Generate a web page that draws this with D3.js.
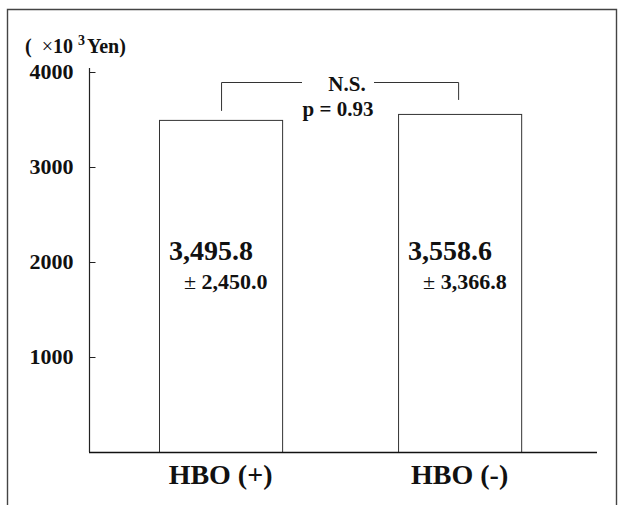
<!DOCTYPE html>
<html lang="en">
<head>
  <meta charset="UTF-8" />
  <title>HBO cost comparison</title>
  <script src="https://d3js.org/d3.v7.min.js"></script>
  <style>
    body { margin: 0; background: #fff; }
    svg text { font-family: "Liberation Serif", "Times New Roman", serif; font-weight: bold; fill: #111; }
  </style>
</head>
<body>
  <svg id="chart"></svg>
  <script>
    // data
    const groups = ["HBO (+)", "HBO (-)"];
    const means = [3495.8, 3558.6];
    const sds = [2450.0, 3366.8];
    const meanLabels = ["3,495.8", "3,558.6"];
    const sdLabels = ["2,450.0", "3,366.8"];
    const tickValues = [1000, 2000, 3000, 4000];

    const width = 622;
    const height = 505;

    const svg = d3.select("#chart")
      .attr("width", width)
      .attr("height", height);

    // outer frame (no bottom edge visible)
    svg.append("path")
      .attr("d", `M7.5,${height} V9.5 H616.5 V${height}`)
      .attr("fill", "none")
      .attr("stroke", "#444")
      .attr("stroke-width", 1.4);

    const y = d3.scaleLinear().domain([0, 4000]).range([452, 72]);
    const x = d3.scaleBand()
      .domain(groups)
      .range([89, 597])
      .paddingInner(0.485)
      .paddingOuter(0.305)
      .align(0.48);

    // y axis
    const yAxis = d3.axisLeft(y)
      .tickValues(tickValues)
      .tickSize(-6)
      .tickPadding(16)
      .tickFormat(d3.format("d"));

    const gy = svg.append("g")
      .attr("transform", "translate(89.5,0)")
      .call(yAxis);
    gy.select(".domain").remove();
    gy.selectAll(".tick line").attr("stroke", "#222").attr("stroke-width", 1);
    gy.selectAll(".tick text")
      .attr("font-size", 22)
      .attr("dy", "0.3em")
      .attr("fill", "#111");

    svg.append("line")
      .attr("x1", 89.5).attr("x2", 89.5)
      .attr("y1", y(0)).attr("y2", y(4000) - 4)
      .attr("stroke", "#222").attr("stroke-width", 1.2);

    // unit label
    const unit = svg.append("text")
      .attr("x", 25).attr("y", 53)
      .attr("font-size", 20)
      .attr("xml:space", "preserve");
    unit.append("tspan").text("(  ");
    unit.append("tspan").attr("font-weight", "normal").text("×");
    unit.append("tspan").text("10 ");
    unit.append("tspan").attr("font-size", 14).attr("dy", -8).text("3");
    unit.append("tspan").attr("dy", 8).attr("dx", 2).text("Yen)");

    // bars
    svg.selectAll(".bar")
      .data(groups)
      .join("rect")
      .attr("class", "bar")
      .attr("x", d => x(d) + 0.5)
      .attr("y", (d, i) => y(means[i]) + 0.5)
      .attr("width", x.bandwidth())
      .attr("height", (d, i) => y(0) - y(means[i]))
      .attr("fill", "#fff")
      .attr("stroke", "#333")
      .attr("stroke-width", 1);

    // baseline
    svg.append("line")
      .attr("x1", 89).attr("x2", 597)
      .attr("y1", y(0) + 0.5).attr("y2", y(0) + 0.5)
      .attr("stroke", "#111").attr("stroke-width", 1.6);

    // mean labels inside bars
    svg.selectAll(".mean")
      .data(groups)
      .join("text")
      .attr("class", "mean")
      .attr("x", d => x(d) + 10)
      .attr("y", y(2000) - 2)
      .attr("font-size", 28)
      .text((d, i) => meanLabels[i]);

    const sdText = svg.selectAll(".sd")
      .data(groups)
      .join("text")
      .attr("class", "sd")
      .attr("x", d => x(d) + 25)
      .attr("y", y(2000) + 27)
      .attr("font-size", 22);
    sdText.append("tspan").attr("font-weight", "normal").text("± ");
    sdText.append("tspan").text((d, i) => sdLabels[i]);

    // category labels
    svg.selectAll(".cat")
      .data(groups)
      .join("text")
      .attr("class", "cat")
      .attr("x", d => x(d) + x.bandwidth() / 2)
      .attr("y", 484)
      .attr("text-anchor", "middle")
      .attr("font-size", 28)
      .text(d => d);

    // significance bracket
    const bracketTop = 3895;
    const bx1 = x(groups[0]) + x.bandwidth() / 2 + 1;
    const bx2 = x(groups[1]) + x.bandwidth() / 2 - 1;
    const by = Math.round(y(bracketTop)) + 0.5;
    const gapL = 302, gapR = 374;
    svg.append("path")
      .attr("d", `M${bx1},${y(means[0]) - 9} V${by} H${gapL} M${gapR},${by} H${bx2} V${y(means[1]) - 14}`)
      .attr("fill", "none")
      .attr("stroke", "#333")
      .attr("stroke-width", 1);

    svg.append("text")
      .attr("x", 347).attr("y", by + 8)
      .attr("text-anchor", "middle")
      .attr("font-size", 21)
      .text("N.S.");
    svg.append("text")
      .attr("x", 338).attr("y", by + 33)
      .attr("text-anchor", "middle")
      .attr("font-size", 21)
      .text("p = 0.93");
  </script>
</body>
</html>
